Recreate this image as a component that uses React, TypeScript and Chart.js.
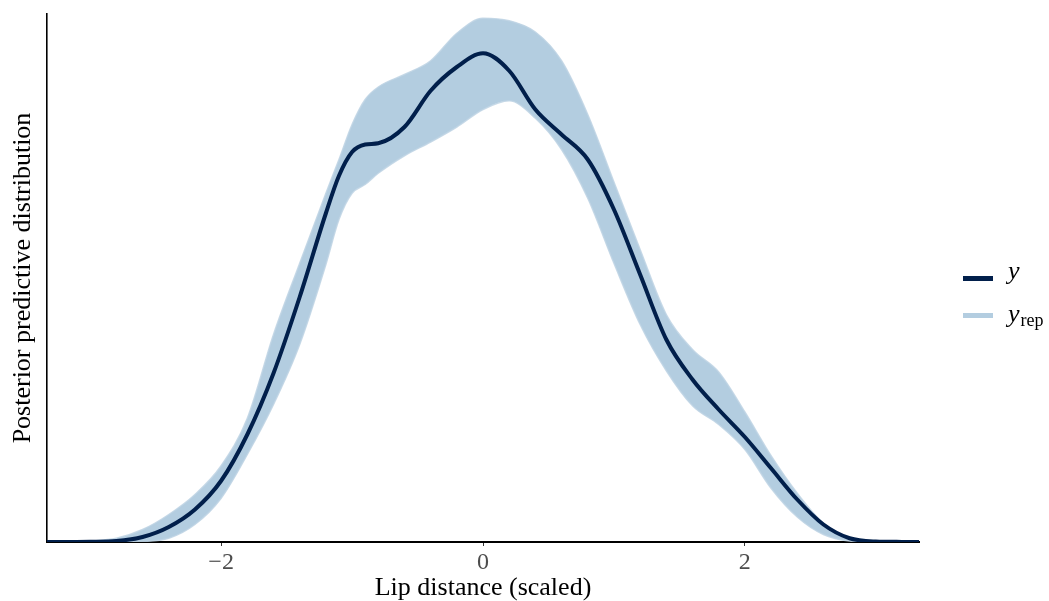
import React, { useEffect, useRef } from 'react';
import { Chart, registerables } from 'chart.js';

Chart.register(...registerables);

// Evaluation grid (Lip distance, scaled)
const xGrid = [
  -3.33, -3.2, -3.0, -2.8, -2.6, -2.4, -2.2, -2.0, -1.8, -1.6, -1.4, -1.2, -1.1, -1.0, -0.9, -0.8, -0.6, -0.4, -0.2,
  0, 0.2, 0.4, 0.6, 0.8, 1.0, 1.2, 1.4, 1.6, 1.8, 2.0, 2.2, 2.4, 2.6, 2.8, 3.0, 3.2, 3.33,
];

// Observed density (y)
const yObserved = [
  0, 0, 0.0002, 0.0008, 0.004, 0.012, 0.026, 0.049, 0.086, 0.135, 0.196, 0.263, 0.293, 0.312, 0.318, 0.319, 0.332, 0.361, 0.38,
  0.391, 0.377, 0.346, 0.326, 0.306, 0.266, 0.214, 0.162, 0.13, 0.106, 0.084, 0.059, 0.034, 0.014, 0.003, 0.0004, 0.0001, 0,
];

// Replicated densities (y_rep): upper and lower envelope of the draws
const yrepUpper = [
  0, 0, 0.0008, 0.003, 0.01, 0.022, 0.038, 0.061, 0.099, 0.166, 0.223, 0.279, 0.306, 0.334, 0.354, 0.364, 0.374, 0.385, 0.407,
  0.419, 0.417, 0.408, 0.385, 0.342, 0.288, 0.234, 0.182, 0.154, 0.136, 0.104, 0.069, 0.039, 0.015, 0.003, 0.0004, 0, 0,
];
const yrepLower = [
  0, 0, 0, 0, 0.0004, 0.003, 0.014, 0.035, 0.07, 0.11, 0.158, 0.222, 0.258, 0.279, 0.286, 0.295, 0.309, 0.32, 0.332,
  0.346, 0.353, 0.339, 0.314, 0.275, 0.223, 0.174, 0.137, 0.109, 0.094, 0.074, 0.043, 0.02, 0.006, 0.0008, 0, 0, 0,
];

const xTicks = [-2, 0, 2];
const xTitle = 'Lip distance (scaled)';
const yTitle = 'Posterior predictive distribution';

const SERIF = '"Liberation Serif", "DejaVu Serif", "Times New Roman", serif';
const DARK = '#011f4b';
const LIGHT = '#b3cde0';

export default function App() {
  const ref = useRef<HTMLCanvasElement>(null);

  useEffect(() => {
    const toPts = (arr: number[]) => xGrid.map((x, i) => ({ x, y: arr[i] }));
    const chart = new Chart(ref.current as HTMLCanvasElement, {
      type: 'line',
      data: {
        datasets: [
          {
            label: 'y',
            data: toPts(yObserved),
            borderColor: DARK,
            borderWidth: 4,
            pointRadius: 0,
            fill: false,
            cubicInterpolationMode: 'monotone',
          },
          {
            label: 'y_rep upper',
            data: toPts(yrepUpper),
            borderColor: 'rgba(190,212,228,0.85)',
            borderWidth: 1.5,
            pointRadius: 0,
            fill: false,
            cubicInterpolationMode: 'monotone',
          },
          {
            label: 'y_rep lower',
            data: toPts(yrepLower),
            borderColor: 'rgba(190,212,228,0.85)',
            backgroundColor: LIGHT,
            borderWidth: 1.5,
            pointRadius: 0,
            fill: '-1',
            cubicInterpolationMode: 'monotone',
          },
        ],
      },
      options: {
        responsive: false,
        animation: false,
        layout: { padding: { left: 0, right: 130, top: 14, bottom: 0 } },
        plugins: { legend: { display: false }, tooltip: { enabled: false } },
        scales: {
          x: {
            type: 'linear',
            min: -3.33,
            max: 3.33,
            afterBuildTicks: (s: any) => {
              s.ticks = xTicks.map((v) => ({ value: v }));
            },
            afterFit: (s: any) => {
              s.height = 59;
            },
            ticks: {
              autoSkip: false,
              maxRotation: 0,
              padding: 5,
              color: '#4d4d4d',
              font: { family: SERIF, size: 24, lineHeight: 1 },
              callback: (v: any) => (Number(v) < 0 ? '\u2212' + Math.abs(Number(v)) : String(v)),
            },
            grid: { display: true, drawOnChartArea: false, drawTicks: true, tickLength: 4, color: '#333', lineWidth: 1 },
            border: { display: true, color: '#000', width: 2 },
            title: {
              display: true,
              text: xTitle,
              color: '#000',
              font: { family: SERIF, size: 26, lineHeight: 1 },
              padding: { top: 0, bottom: 0 },
            },
          },
          y: {
            type: 'linear',
            min: 0,
            max: 0.4224,
            afterFit: (s: any) => {
              s.width = 47;
            },
            ticks: { display: false },
            grid: { display: false },
            border: { display: true, color: '#000', width: 1.6 },
            title: {
              display: true,
              text: yTitle,
              color: '#000',
              font: { family: SERIF, size: 26, lineHeight: 1 },
              padding: { top: 10, bottom: 0 },
            },
          },
        },
      },
    });
    return () => chart.destroy();
  }, []);

  return (
    <div style={{ position: 'fixed', left: 0, top: 0, width: 1049, height: 601, background: '#fff' }}>
      <canvas ref={ref} width={1049} height={601} style={{ display: 'block' }} />
      <div style={{ position: 'absolute', left: 963, top: 276, width: 30, height: 5, background: DARK }} />
      <div
        style={{
          position: 'absolute',
          left: 1008,
          top: 258,
          fontFamily: SERIF,
          fontStyle: 'italic',
          fontSize: 26,
          lineHeight: 1,
          color: '#000',
        }}
      >
        y
      </div>
      <div style={{ position: 'absolute', left: 963, top: 313, width: 30, height: 5, background: LIGHT }} />
      <div
        style={{
          position: 'absolute',
          left: 1008,
          top: 301,
          fontFamily: SERIF,
          fontSize: 26,
          lineHeight: 1,
          color: '#000',
          whiteSpace: 'nowrap',
        }}
      >
        <span style={{ fontStyle: 'italic' }}>y</span>
        <span style={{ fontSize: 18, position: 'relative', top: 4, marginLeft: 1 }}>rep</span>
      </div>
    </div>
  );
}
